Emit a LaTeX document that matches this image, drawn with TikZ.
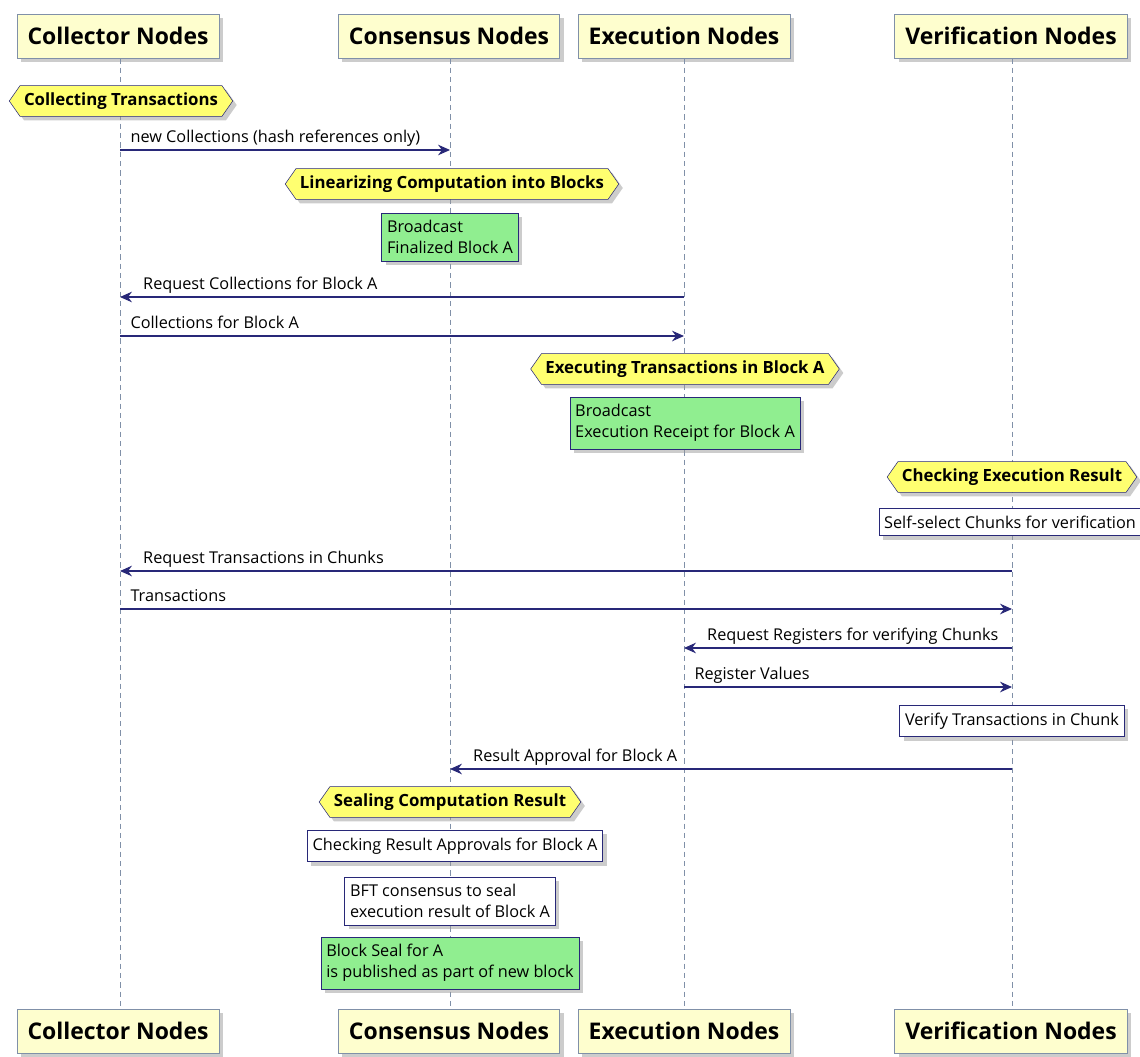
\documentclass[tikz,border=0pt]{standalone}
\usepackage{fontspec}
\setmainfont{Open Sans}
\usetikzlibrary{positioning, arrows.meta, shapes.symbols, shadows}

\definecolor{hdrfill}{HTML}{FEFECE}
\definecolor{hdrline}{HTML}{8090A8}
\definecolor{divfill}{HTML}{FFFF70}
\definecolor{navy}{HTML}{282878}
\definecolor{notegreen}{HTML}{90EE90}

\begin{document}
\begin{tikzpicture}[
  x=0.75pt, y=-0.75pt,
  actor/.style={rectangle, draw=hdrline, fill=hdrfill, font=\fontsize{17.2}{20}\selectfont\bfseries, minimum height=33pt, inner xsep=8pt, drop shadow={shadow xshift=3pt, shadow yshift=-3pt, fill=black!40}},
  divider/.style={signal, signal to=west and east, signal pointer angle=110, draw=navy, fill=divfill, font=\fontsize{12.6}{15}\selectfont\bfseries, minimum height=23pt, inner xsep=3pt, inner ysep=5pt, drop shadow={shadow xshift=3pt, shadow yshift=-3pt, fill=black!40}},
  note/.style={rectangle, draw=navy, fill=white, align=left, font=\fontsize{12.2}{15.5}\selectfont, inner xsep=4pt, inner ysep=5.5pt, drop shadow={shadow xshift=3pt, shadow yshift=-3pt, fill=black!40}},
  greennote/.style={note, fill=notegreen},
  life/.style={draw=hdrline, dash pattern=on 4pt off 3pt, line width=0.6pt},
  msg/.style={-{Stealth[length=9pt, width=8pt, inset=3pt]}, draw=navy, line width=0.8pt},
  lbl/.style={font=\fontsize{12.2}{15}\selectfont, anchor=base west, inner sep=0pt, yshift=5.5pt}
]
\useasboundingbox (0,0) rectangle (1140,1057);

% ======================
% PARTICIPANTS
% ======================
\node[actor] (col_top) at (118,36) {Collector Nodes};
\node[actor] (con_top) at (449,36) {Consensus Nodes};
\node[actor] (exe_top) at (684,36) {Execution Nodes};
\node[actor] (ver_top) at (1011,36) {Verification Nodes};

\node[actor] (col_bot) at (118,1031) {Collector Nodes};
\node[actor] (con_bot) at (449,1031) {Consensus Nodes};
\node[actor] (exe_bot) at (684,1031) {Execution Nodes};
\node[actor] (ver_bot) at (1011,1031) {Verification Nodes};

% lifelines
\coordinate (col_x) at (120,0);
\coordinate (con_x) at (450,0);
\coordinate (exe_x) at (684,0);
\coordinate (ver_x) at (1012,0);
\draw[life] (col_x |- col_top.south) -- (col_x |- col_bot.north);
\draw[life] (con_x |- con_top.south) -- (con_x |- con_bot.north);
\draw[life] (exe_x |- exe_top.south) -- (exe_x |- exe_bot.north);
\draw[life] (ver_x |- ver_top.south) -- (ver_x |- ver_bot.north);

% ======================
% COLLECTING
% ======================
\node[divider] (collecting) at (121,101) {Collecting Transactions};

\coordinate (m1) at (0,150);
\draw[msg] (col_x |- m1) -- (con_x |- m1)
  node[lbl, pos=0, xshift=7.5pt] (m1_lbl) {new Collections (hash references only)};

% ======================
% LINEARIZING
% ======================
\node[divider] (linearizing) at (452,184) {Linearizing Computation into Blocks};
\node[greennote] (finalized) at (450,237) {Broadcast\\Finalized Block A};

\coordinate (m2) at (0,297);
\draw[msg] (exe_x |- m2) -- (col_x |- m2)
  node[lbl, pos=1, xshift=17pt] (m2_lbl) {Request Collections for Block A};

\coordinate (m3) at (0,336);
\draw[msg] (col_x |- m3) -- (exe_x |- m3)
  node[lbl, pos=0, xshift=7.5pt] (m3_lbl) {Collections for Block A};

% ======================
% EXECUTING
% ======================
\node[divider] (executing) at (685,369) {Executing Transactions in Block A};
\node[greennote] (receipt) at (685,423) {Broadcast\\Execution Receipt for Block A};

% ======================
% CHECKING
% ======================
\node[divider] (checking) at (1012,477) {Checking Execution Result};
\node[note] (selfselect) at (1010,522) {Self-select Chunks for verification};

\coordinate (m4) at (0,571);
\draw[msg] (ver_x |- m4) -- (col_x |- m4)
  node[lbl, pos=1, xshift=17pt] (m4_lbl) {Request Transactions in Chunks};

\coordinate (m5) at (0,609);
\draw[msg] (col_x |- m5) -- (ver_x |- m5)
  node[lbl, pos=0, xshift=7.5pt] (m5_lbl) {Transactions};

\coordinate (m6) at (0,648);
\draw[msg] (ver_x |- m6) -- (exe_x |- m6)
  node[lbl, pos=1, xshift=17pt] (m6_lbl) {Request Registers for verifying Chunks};

\coordinate (m7) at (0,687);
\draw[msg] (exe_x |- m7) -- (ver_x |- m7)
  node[lbl, pos=0, xshift=7.5pt] (m7_lbl) {Register Values};

\node[note] (verify) at (1012,721) {Verify Transactions in Chunk};

\coordinate (m8) at (0,769);
\draw[msg] (ver_x |- m8) -- (con_x |- m8)
  node[lbl, pos=1, xshift=17pt] (m8_lbl) {Result Approval for Block A};

% ======================
% SEALING
% ======================
\node[divider] (sealing) at (450,802) {Sealing Computation Result};
\node[note] (approvals) at (455,846) {Checking Result Approvals for Block A};
\node[note] (bft) at (450,901) {BFT consensus to seal\\execution result of Block A};
\node[greennote] (seal) at (450,963) {Block Seal for A\\is published as part of new block};

\end{tikzpicture}
\end{document}
